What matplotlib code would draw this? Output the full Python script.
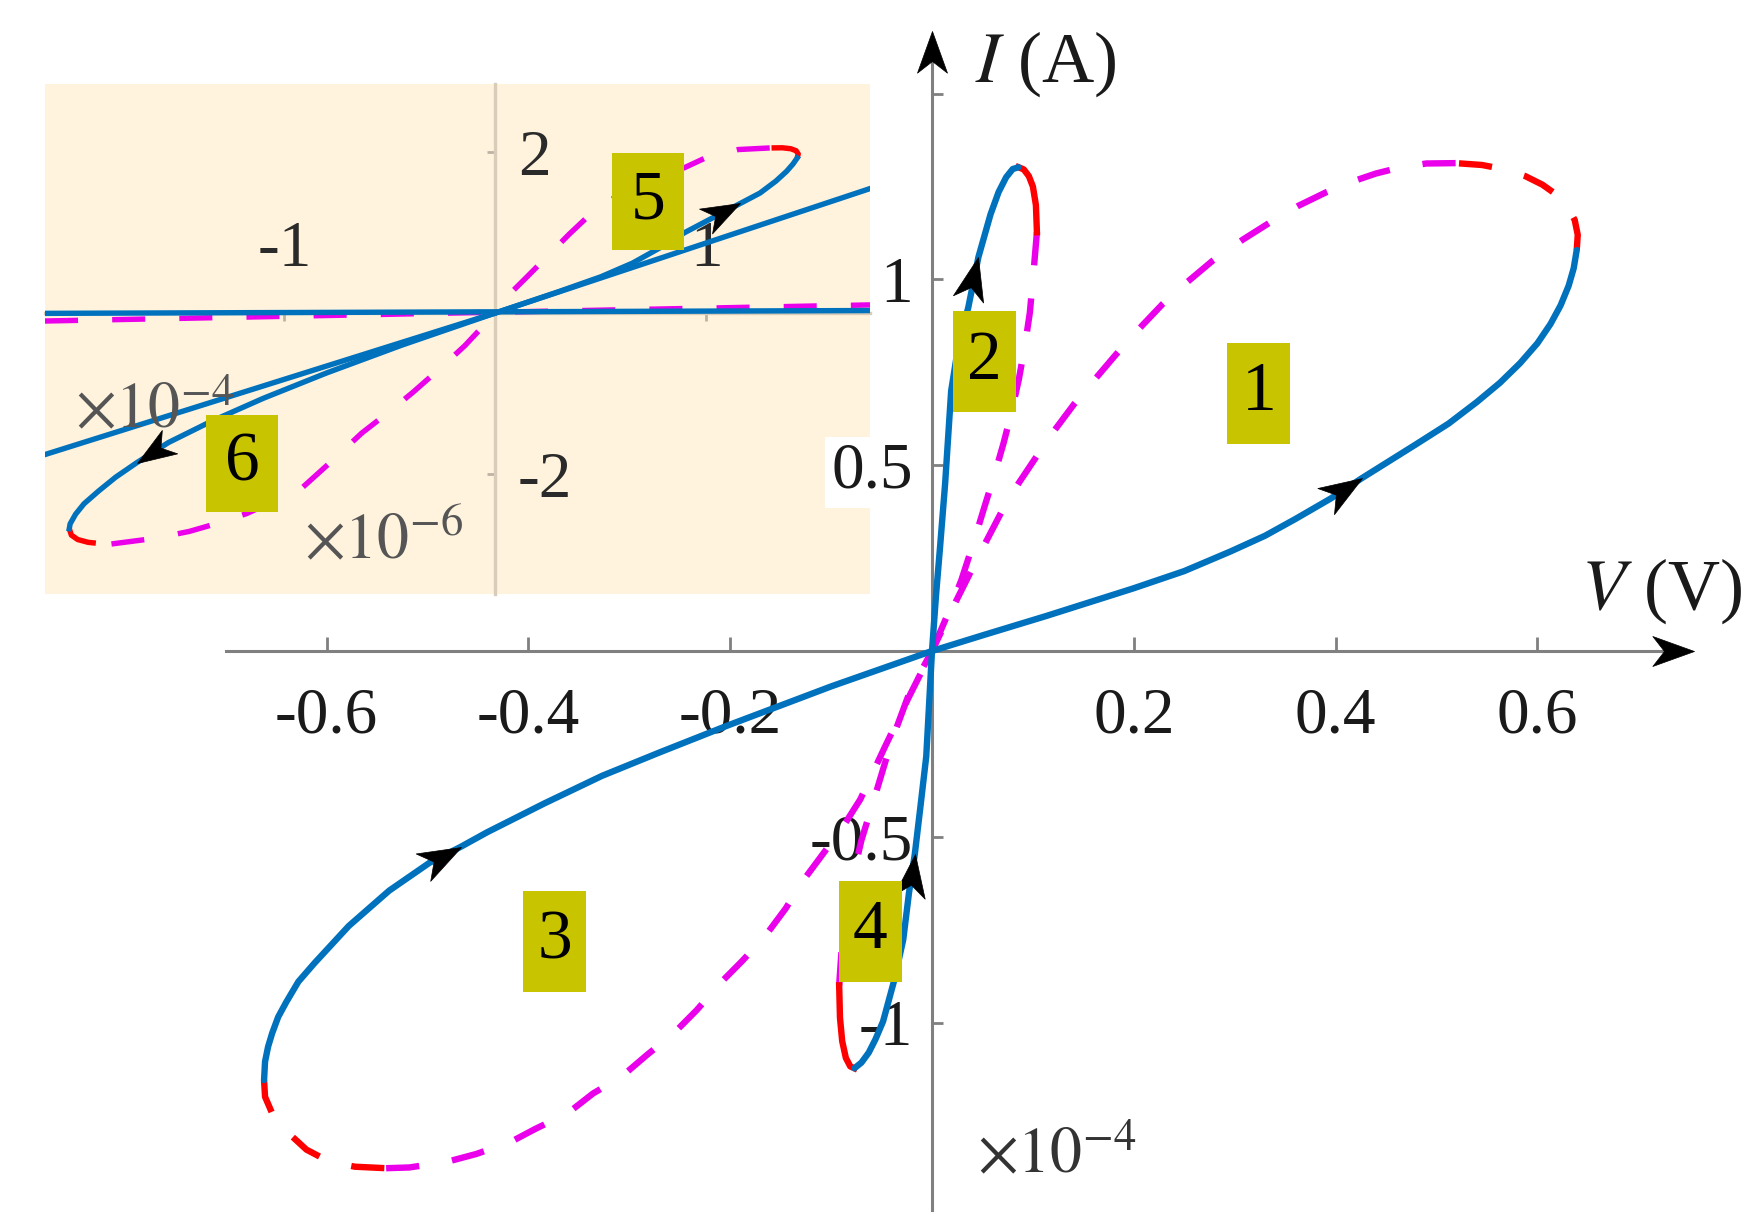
import numpy as np
import matplotlib.pyplot as plt
from matplotlib.markers import MarkerStyle
from matplotlib.path import Path
from matplotlib.patches import Rectangle
from matplotlib.transforms import Affine2D, IdentityTransform

plt.rcParams['font.family'] = ['Liberation Serif', 'DejaVu Serif']
plt.rcParams['mathtext.fontset'] = 'stix'
plt.rcParams['axes.unicode_minus'] = False

# ---------------- main plot: V in volts, I in units of 1e-4 A ----------------
# loop 1 (large, positive side)
loop1_blue_v = [0, 0.05, 0.113, 0.199, 0.25, 0.296, 0.33, 0.36, 0.395, 0.426, 0.479, 0.512,
                0.540, 0.563, 0.583, 0.600, 0.613, 0.623, 0.631, 0.636, 0.639]
loop1_blue_i = [0, 0.042, 0.094, 0.168, 0.215, 0.268, 0.31, 0.355, 0.41, 0.465, 0.555, 0.612,
                0.670, 0.722, 0.775, 0.828, 0.880, 0.930, 0.983, 1.03, 1.079]
loop1_red_v = [0.639, 0.640, 0.637, 0.630, 0.619, 0.605, 0.588, 0.568, 0.545, 0.519]
loop1_red_i = [1.079, 1.12, 1.16, 1.195, 1.228, 1.255, 1.278, 1.296, 1.308, 1.313]
loop1_mag_v = [0.519, 0.49, 0.465, 0.44, 0.415, 0.391, 0.363, 0.336, 0.308, 0.278, 0.253, 0.229,
               0.208, 0.183, 0.162, 0.141, 0.122, 0.104, 0.086, 0.070, 0.047, 0.024, 0]
loop1_mag_i = [1.313, 1.312, 1.302, 1.285, 1.262, 1.235, 1.198, 1.155, 1.107, 1.05, 0.993, 0.935,
               0.875, 0.80, 0.733, 0.665, 0.596, 0.525, 0.452, 0.380, 0.26, 0.135, 0]

# loop 2 (small, positive side)
loop2_blue_v = [0, 0.004, 0.008, 0.013, 0.019, 0.026, 0.036, 0.046, 0.058, 0.066, 0.0735, 0.080, 0.0857]
loop2_blue_i = [0, 0.15, 0.28, 0.45, 0.70, 0.82, 0.925, 1.06, 1.175, 1.235, 1.275, 1.297, 1.302]
loop2_red_v = [0.0857, 0.091, 0.096, 0.100, 0.103, 0.104]
loop2_red_i = [1.302, 1.296, 1.278, 1.25, 1.20, 1.127]
loop2_mag_v = [0.104, 0.101, 0.097, 0.092, 0.086, 0.079, 0.071, 0.062, 0.052, 0.041, 0.029, 0.015, 0]
loop2_mag_i = [1.127, 1.031, 0.911, 0.82, 0.73, 0.645, 0.56, 0.475, 0.388, 0.29, 0.19, 0.095, 0]

# loop 3 (large, negative side)
loop3_blue_v = [0, -0.0996, -0.202, -0.270, -0.327, -0.384, -0.441, -0.467, -0.498, -0.538,
                -0.578, -0.612, -0.628, -0.640, -0.648, -0.654, -0.658, -0.661, -0.662]
loop3_blue_i = [0, -0.095, -0.200, -0.273, -0.336, -0.410, -0.488, -0.527, -0.570, -0.645,
                -0.740, -0.840, -0.89, -0.945, -0.985, -1.029, -1.065, -1.105, -1.155]
loop3_red_v = [-0.662, -0.661, -0.654, -0.645, -0.632, -0.620, -0.606, -0.590, -0.572, -0.541]
loop3_red_i = [-1.155, -1.20, -1.244, -1.28, -1.312, -1.342, -1.362, -1.378, -1.388, -1.392]
loop3_mag_v = [-0.541, -0.518, -0.481, -0.452, -0.418, -0.393, -0.361, -0.336, -0.307, -0.282,
               -0.256, -0.233, -0.211, -0.188, -0.165, -0.145, -0.128, -0.108, -0.088, -0.071,
               -0.047, -0.024, 0]
loop3_mag_i = [-1.392, -1.390, -1.375, -1.354, -1.322, -1.286, -1.244, -1.191, -1.144, -1.086,
               -1.029, -0.966, -0.897, -0.834, -0.766, -0.693, -0.619, -0.546, -0.472, -0.399,
               -0.26, -0.13, 0]

# loop 4 (small, negative side)
loop4_blue_v = [0, -0.0057, -0.0115, -0.017, -0.0228, -0.0285, -0.037, -0.0485, -0.056,
                -0.0627, -0.070, -0.0769]
loop4_blue_i = [0, -0.284, -0.420, -0.546, -0.651, -0.777, -0.882, -0.997, -1.045,
                -1.081, -1.108, -1.123]
loop4_red_v = [-0.0769, -0.081, -0.0854, -0.089, -0.0912, -0.092]
loop4_red_i = [-1.123, -1.118, -1.095, -1.05, -0.987, -0.90]
loop4_mag_v = [-0.092, -0.089, -0.082, -0.070, -0.054, -0.040, -0.022, 0]
loop4_mag_i = [-0.90, -0.78, -0.65, -0.51, -0.368, -0.242, -0.11, 0]

main_xticks = [-0.6, -0.4, -0.2, 0.2, 0.4, 0.6]
main_xlabels = ['-0.6', '-0.4', '-0.2', '0.2', '0.4', '0.6']
main_yticks = [-1, -0.5, 0.5, 1, 1.5]
main_ylabels = ['-1', '-0.5', '0.5', '1', '']

main_tags = ['1', '2', '3', '4']
main_tag_v = [0.324, 0.0521, -0.374, -0.0614]
main_tag_i = [0.694, 0.778, -0.782, -0.754]

# ---------------- inset: V in 1e-4 V, I in 1e-6 A ----------------
in_flat_blue_v = [-2.135, 1.775]
in_flat_blue_i = [-0.005, 0.03]
in_flat_mag_v = [-2.135, 1.775]
in_flat_mag_i = [-0.10, 0.10]
in_line_v = [-2.135, 0, 1.775]
in_line_i = [-1.759, 0, 1.545]

loop5_blue_v = [0, 0.3, 0.5, 0.65, 0.78, 0.898, 1.05, 1.16, 1.254, 1.33, 1.38, 1.41, 1.43]
loop5_blue_i = [0, 0.265, 0.45, 0.62, 0.81, 1.0, 1.21, 1.36, 1.49, 1.64, 1.76, 1.85, 1.925]
loop5_red_v = [1.43, 1.435, 1.425, 1.40, 1.36, 1.30]
loop5_red_i = [1.925, 1.975, 2.015, 2.04, 2.052, 2.05]
loop5_mag_v = [1.30, 1.15, 0.99, 0.90, 0.72, 0.50, 0.35, 0.249, 0.15, 0.05, 0]
loop5_mag_i = [2.05, 2.03, 1.92, 1.81, 1.62, 1.35, 0.98, 0.712, 0.45, 0.19, 0]

loop6_blue_v = [0, -0.444, -0.80, -1.10, -1.35, -1.55, -1.70, -1.80, -1.88, -1.95, -1.99, -2.016, -2.02]
loop6_blue_i = [0, -0.40, -0.745, -1.06, -1.35, -1.61, -1.86, -2.04, -2.21, -2.37, -2.50, -2.62, -2.68]
loop6_red_v = [-2.02, -2.01, -1.98, -1.93, -1.87, -1.82]
loop6_red_i = [-2.68, -2.76, -2.815, -2.85, -2.866, -2.87]
loop6_mag_v = [-1.82, -1.614, -1.451, -1.30, -1.179, -1.05, -0.920, -0.78, -0.634, -0.50,
               -0.390, -0.25, -0.145, 0]
loop6_mag_i = [-2.87, -2.80, -2.714, -2.60, -2.492, -2.34, -2.181, -1.85, -1.493, -1.22,
               -0.983, -0.66, -0.406, 0]

in_xticks = [-1, 1]
in_xlabels = ['-1', '1']
in_yticks = [-2, 2]
in_ylabels = ['-2', '2']

in_tags = ['5', '6']
in_tag_v = [0.725, -1.199]
in_tag_i = [1.385, -1.870]

# ---------------- styles ----------------
BLUE = '#0072BD'
MAG = '#EA00EA'
RED = '#FF0000'
BOX = '#C9C400'
AXC = '#808080'
BEIGE = '#FFF3DE'

HEAD = Path([(0, 0), (-1.0, 0.36), (-0.72, 0), (-1.0, -0.36), (0, 0)],
            [Path.MOVETO, Path.LINETO, Path.LINETO, Path.LINETO, Path.CLOSEPOLY])


def head(ax, x, y, ang, size):
    m = MarkerStyle(HEAD, transform=Affine2D().rotate_deg(ang))
    ax.plot([x], [y], marker=m, ms=size, color='k', mec='k', mew=0.5,
            ls='none', zorder=6, clip_on=False)


def curve_head(ax, v, i, k, back=False, size=60):
    p0 = ax.transData.transform((v[k - 1], i[k - 1]))
    p1 = ax.transData.transform((v[k + 1], i[k + 1]))
    d = (p0 - p1) if back else (p1 - p0)
    head(ax, v[k], i[k], np.degrees(np.arctan2(d[1], d[0])), size)


def tag(ax, x, y, s, w, h, fs):
    px, py = ax.transData.transform((x, y))
    ax.add_artist(Rectangle((px - w / 2, py - h / 2), w, h, transform=IdentityTransform(),
                            fc=BOX, ec='none', zorder=7))
    ax.text(x, y, s, ha='center', va='center', fontsize=fs, color='k', zorder=8)


fig = plt.figure(figsize=(17.65, 12.31), dpi=100)

# ---------------- main axes ----------------
ax = fig.add_axes([0, 0, 1, 1])
ax.set_xlim(-0.9237, 0.8256)
ax.set_ylim(-1.561, 1.752)
ax.patch.set_visible(False)
ax.set_zorder(2)

for s in ['top', 'right']:
    ax.spines[s].set_visible(False)
ax.spines['bottom'].set_position(('data', 0))
ax.spines['left'].set_position(('data', 0))
ax.spines['bottom'].set_bounds(-0.70, 0.74)
ax.spines['left'].set_bounds(-1.505, 1.64)
for s in ['bottom', 'left']:
    ax.spines[s].set_color(AXC)
    ax.spines[s].set_linewidth(2.2)
    ax.spines[s].set_zorder(1)

ax.set_xticks(main_xticks, main_xlabels)
ax.set_yticks(main_yticks, main_ylabels)
ax.tick_params(axis='x', direction='in', length=10, width=2, color=AXC, pad=26,
               labelsize=47, labelcolor='#1a1a1a')
ax.tick_params(axis='y', direction='in', length=8, width=2, color=AXC, pad=14,
               labelsize=47, labelcolor='#1a1a1a')
ax.get_yticklabels()[2].set_bbox(dict(fc='white', ec='none', pad=4))

lw = 4.6
dash = (0, (5.2, 5.2))
for bv, bi, rv, ri, mv, mi, red_ls in [
        (loop1_blue_v, loop1_blue_i, loop1_red_v, loop1_red_i, loop1_mag_v, loop1_mag_i, dash),
        (loop2_blue_v, loop2_blue_i, loop2_red_v, loop2_red_i, loop2_mag_v, loop2_mag_i, '-'),
        (loop3_blue_v, loop3_blue_i, loop3_red_v, loop3_red_i, loop3_mag_v, loop3_mag_i, dash),
        (loop4_blue_v, loop4_blue_i, loop4_red_v, loop4_red_i, loop4_mag_v, loop4_mag_i, '-')]:
    ax.plot(mv, mi, color=MAG, lw=lw, ls=dash, zorder=3)
    ax.plot(rv, ri, color=RED, lw=lw, ls=red_ls, zorder=3)
    ax.plot(bv, bi, color=BLUE, lw=lw, zorder=4, solid_capstyle='round')

curve_head(ax, loop1_blue_v, loop1_blue_i, 9, size=62)
curve_head(ax, loop2_blue_v, loop2_blue_i, 7, size=62)
curve_head(ax, loop3_blue_v, loop3_blue_i, 7, back=True, size=62)
curve_head(ax, loop4_blue_v, loop4_blue_i, 3, back=True, size=62)

# axis arrows
head(ax, 0.755, 0, 0, 60)
head(ax, 0, 1.668, 90, 60)

for t, x, y in zip(main_tags, main_tag_v, main_tag_i):
    tag(ax, x, y, t, 63, 101, 50)

ax.text(0.5524, 0.9334, r'$I$ (A)', transform=ax.transAxes, fontsize=52,
        va='baseline', ha='left', color='#1a1a1a')
ax.text(0.896, 0.5056, r'$V$ (V)', transform=ax.transAxes, fontsize=52,
        va='baseline', ha='left', color='#1a1a1a')
ax.text(0.5535, 0.047, r'$\times10^{-4}$', transform=ax.transAxes, fontsize=46,
        va='baseline', ha='left', color='#333333')

# ---------------- inset ----------------
axi = fig.add_axes([0.0255, 0.5175, 0.4674, 0.4143])
axi.set_zorder(1)
axi.set_facecolor(BEIGE)
axi.set_xlim(-2.135, 1.775)
axi.set_ylim(-3.491, 2.845)
axi.spines['left'].set_visible(False)
axi.spines['bottom'].set_visible(False)
axi.spines['right'].set_position(('data', 0))
axi.spines['top'].set_position(('data', 0))
for s in ['right', 'top']:
    axi.spines[s].set_color('#D9CCB8')
    axi.spines[s].set_linewidth(2.4)
axi.xaxis.set_ticks_position('top')
axi.yaxis.set_ticks_position('right')
axi.set_xticks(in_xticks, in_xlabels)
axi.set_yticks(in_yticks, in_ylabels)
axi.tick_params(axis='x', direction='in', length=6, width=2, color='#BDB3A5', pad=24,
                labelsize=47, labelcolor='#2a2a2a')
axi.tick_params(axis='y', direction='in', length=6, width=2, color='#BDB3A5', pad=16,
                labelsize=47, labelcolor='#2a2a2a')

lwi = 3.9
dashi = (0, (6.1, 6.3))
axi.plot(in_flat_mag_v, in_flat_mag_i, color=MAG, lw=lwi, ls=dashi, zorder=3)
axi.plot(in_flat_blue_v, in_flat_blue_i, color=BLUE, lw=lwi, zorder=4)
axi.plot(in_line_v, in_line_i, color=BLUE, lw=lwi, zorder=4)
for bv, bi, rv, ri, mv, mi in [
        (loop5_blue_v, loop5_blue_i, loop5_red_v, loop5_red_i, loop5_mag_v, loop5_mag_i),
        (loop6_blue_v, loop6_blue_i, loop6_red_v, loop6_red_i, loop6_mag_v, loop6_mag_i)]:
    axi.plot(mv, mi, color=MAG, lw=lwi, ls=dashi, zorder=3)
    axi.plot(rv, ri, color=RED, lw=lwi, ls=dashi, zorder=3)
    axi.plot(bv, bi, color=BLUE, lw=lwi, zorder=4)

curve_head(axi, loop5_blue_v, loop5_blue_i, 7, size=56)
curve_head(axi, loop6_blue_v, loop6_blue_i, 6, size=56)

for t, x, y in zip(in_tags, in_tag_v, in_tag_i):
    tag(axi, x, y, t, 72, 97, 50)

axi.text(0.036, 0.3255, r'$\times10^{-4}$', transform=axi.transAxes, fontsize=46,
         va='baseline', ha='left', color='#555555', zorder=5)
axi.text(0.314, 0.0706, r'$\times10^{-6}$', transform=axi.transAxes, fontsize=46,
         va='baseline', ha='left', color='#555555', zorder=5)

fig.savefig('out.png', dpi=100, facecolor='white')
